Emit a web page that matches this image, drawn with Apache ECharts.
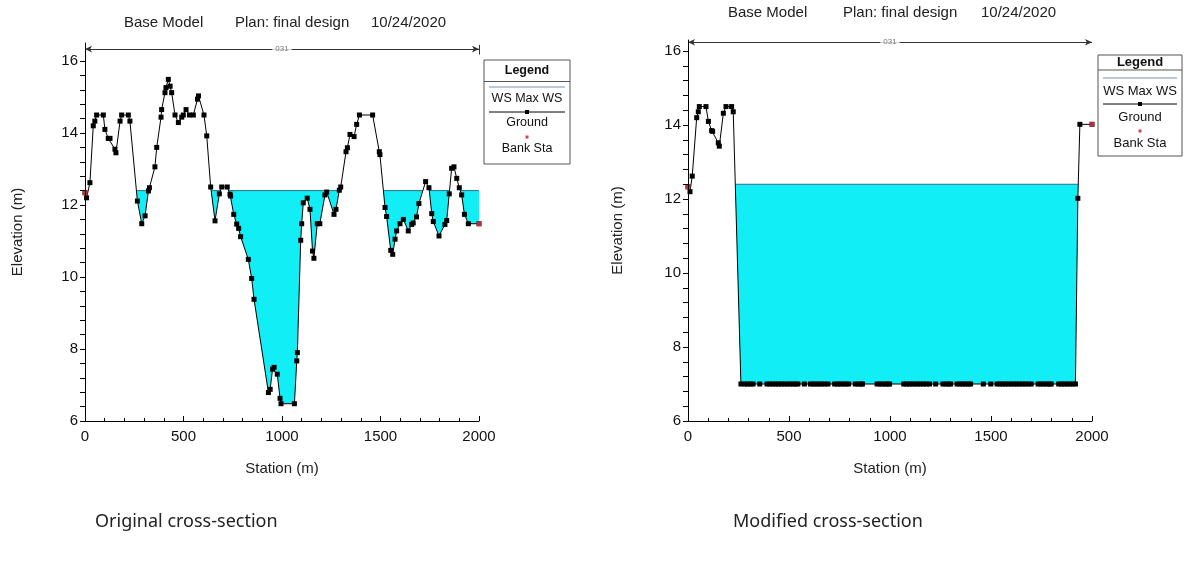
<!DOCTYPE html>
<html>
<head>
<meta charset="utf-8">
<script src="https://cdn.jsdelivr.net/npm/echarts@6/dist/echarts.min.js"></script>
<style>
html,body{margin:0;padding:0;background:#fff}
#chart{width:1184px;height:562px}
</style>
</head>
<body>
<div id="chart"></div>
<script>
// original cross-section ground points
const origStation = [0,8,25,42,50,59,93,101,118,127,152,157,178,186,220,228,266,288,305,322,327,355,364,386,389,406,411,423,432,440,457,474,491,499,513,530,550,571,576,604,618,638,660,682,694,722,736,739,755,770,780,790,829,846,858,931,940,952,960,976,990,995,1063,1075,1078,1095,1100,1108,1128,1142,1155,1162,1179,1192,1218,1227,1264,1274,1291,1298,1325,1332,1345,1366,1379,1393,1460,1494,1497,1523,1531,1552,1562,1574,1582,1599,1616,1641,1658,1666,1683,1695,1729,1746,1760,1768,1797,1827,1836,1849,1861,1873,1887,1900,1912,1926,1946,2000];
const origElev = [12.34,12.2,12.62,14.2,14.33,14.5,14.5,14.1,13.85,13.85,13.55,13.45,14.33,14.5,14.5,14.33,12.11,11.48,11.7,12.39,12.48,13.06,13.6,14.44,14.65,15.12,15.26,15.49,15.3,15.12,14.5,14.29,14.44,14.5,14.65,14.5,14.5,14.94,15.03,14.5,13.92,12.5,11.56,12.31,12.5,12.5,12.3,12.25,11.74,11.47,11.35,11.12,10.49,9.96,9.38,6.79,6.88,7.44,7.49,7.3,6.63,6.48,6.48,7.67,7.9,11.02,11.48,12.06,12.19,11.88,10.72,10.52,11.48,11.48,12.28,12.36,11.74,11.88,12.41,12.5,13.48,13.59,13.96,13.9,14.24,14.5,14.5,13.48,13.4,11.93,11.68,10.74,10.63,11.05,11.28,11.48,11.6,11.28,11.46,11.5,11.67,12.04,12.65,12.48,11.76,11.54,11.14,11.46,11.57,12.31,13.02,13.06,12.74,12.48,12.28,11.74,11.48,11.48];

// modified cross-section: left overbank, flat bed, right bank
const modLeftStation = [0,10,21,43,51,56,89,101,117,122,150,155,175,188,216,224];
const modLeftElev = [12.33,12.2,12.62,14.2,14.36,14.5,14.5,14.1,13.85,13.83,13.52,13.43,14.32,14.5,14.5,14.36];
const modBedStation = [262,280,295,308,322,355,391,405,420,434,448,462,477,491,505,519,532,544,576,606,620,634,648,662,677,693,726,740,754,768,782,795,828,842,856,864,936,950,964,978,990,998,1068,1082,1096,1110,1124,1138,1152,1166,1180,1196,1226,1262,1276,1290,1300,1332,1346,1360,1374,1388,1399,1462,1499,1530,1544,1558,1572,1586,1600,1614,1628,1642,1656,1670,1684,1699,1733,1747,1761,1775,1789,1798,1835,1849,1863,1877,1891,1905,1918];
const modBedElev = 7.0;
const modRightStation = [1930,1940,2000];
const modRightElev = [12.02,14.02,14.02];

// water surface and bank stations
const wsElev = 12.4;
const origWsStation = [240, 2000];
const modWsStation = [230, 2000];
const bankStation = [0, 2000];
const origBankElev = [12.34, 11.48];
const modBankElev = [12.33, 14.02];

// reach length marker across the top
const spanStation = [0, 2000];
const spanLabel = '031';
const origSpanElev = 16.33;
const modSpanElev = 16.24;

// axes
const yLabelValues = [6, 8, 10, 12, 14, 16];
const yTickValues = [6,6.4,6.8,7.2,7.6,8,8.4,8.8,9.2,9.6,10,10.4,10.8,11.2,11.6,12,12.4,12.8,13.2,13.6,14,14.4,14.8,15.2,15.6,16];

const FONT = "'Liberation Sans', Arial, sans-serif";
const CAPTION_FONT = "'Noto Sans', 'Open Sans', sans-serif";

const origGround = origStation.map((s, i) => [s, origElev[i]]);
const modGround = modLeftStation.map((s, i) => [s, modLeftElev[i]])
    .concat(modBedStation.map(s => [s, modBedElev]))
    .concat(modRightStation.map((s, i) => [s, modRightElev[i]]));

function xAxisFor(g) {
    return {
        gridIndex: g, type: 'value', min: 0, max: 2000, interval: 500,
        name: 'Station (m)', nameLocation: 'middle', nameGap: 40,
        nameTextStyle: {fontSize: 15, color: '#222', fontFamily: FONT},
        axisLine: {show: true, lineStyle: {color: '#000', width: 1}},
        axisTick: {show: true, inside: true, length: 5, lineStyle: {color: '#000'}},
        minorTick: {show: true, splitNumber: 5, length: 3, lineStyle: {color: '#000'}},
        splitLine: {show: false},
        axisLabel: {fontSize: 15, color: '#111', margin: 8, fontFamily: FONT, formatter: v => String(v)},
        z: 5
    };
}

function yAxisFor(g, max, gap) {
    return {
        gridIndex: g, type: 'value', min: 6, max: max,
        name: 'Elevation (m)', nameLocation: 'middle', nameGap: gap,
        nameTextStyle: {fontSize: 15, color: '#222', fontFamily: FONT},
        axisLine: {show: true, lineStyle: {color: '#000', width: 1}},
        axisTick: {show: true, inside: false, length: 5, customValues: yTickValues, lineStyle: {color: '#000'}},
        splitLine: {show: false},
        axisLabel: {fontSize: 15, color: '#111', margin: 7, fontFamily: FONT, customValues: yLabelValues},
        z: 5
    };
}

function seriesFor(g, ground, wsStation, bankElev, spanElev) {
    return [
        {
            name: 'WS Max WS', type: 'line', xAxisIndex: g, yAxisIndex: g,
            data: wsStation.map(s => [s, wsElev]),
            symbol: 'none', silent: true, z: 1,
            lineStyle: {color: '#2c6f84', width: 1},
            areaStyle: {color: '#12eef6', opacity: 1, origin: 'start'}
        },
        {
            name: 'Ground', type: 'line', xAxisIndex: g, yAxisIndex: g,
            data: ground, symbol: 'rect', symbolSize: 5, silent: true, z: 2,
            itemStyle: {color: '#000'},
            lineStyle: {color: '#000', width: 1},
            areaStyle: {color: '#fff', opacity: 1, origin: 'start'}
        },
        {
            name: 'Bank Sta', type: 'scatter', xAxisIndex: g, yAxisIndex: g,
            data: bankStation.map((s, i) => [s, bankElev[i]]),
            symbol: 'rect', symbolSize: 5, silent: true, z: 4,
            itemStyle: {color: '#d8404c'}
        },
        {
            name: 'span', type: 'scatter', xAxisIndex: g, yAxisIndex: g,
            data: [[(spanStation[0] + spanStation[1]) / 2, spanElev]],
            symbolSize: 0, silent: true, z: 6,
            label: {show: true, position: 'inside', formatter: spanLabel, fontSize: 8, color: '#555',
                    backgroundColor: '#fff', padding: [0, 3], fontFamily: FONT},
            markLine: {
                silent: true, symbol: ['arrow', 'arrow'], symbolSize: [5, 7],
                lineStyle: {color: '#333', width: 1, type: 'solid'},
                label: {show: false},
                data: [
                    [{coord: [spanStation[0], spanElev]}, {coord: [spanStation[1], spanElev]}],
                    [{coord: [spanStation[0], spanElev - 0.15], symbol: 'none'}, {coord: [spanStation[0], spanElev + 0.12], symbol: 'none'}],
                    [{coord: [spanStation[1], spanElev - 0.15], symbol: 'none'}, {coord: [spanStation[1], spanElev + 0.12], symbol: 'none'}]
                ]
            }
        }
    ];
}

function legendBox(x, y, w, h, rows, fs) {
    const cx = x + w / 2;
    const t = (text, yy, bold) => ({
        type: 'text', x: cx, y: yy,
        style: {text: text, align: 'center', verticalAlign: 'middle',
                font: (bold ? 'bold ' : '') + fs + 'px ' + FONT, fill: '#111'}
    });
    const ln = (yy, color) => ({
        type: 'line', shape: {x1: x + 5, y1: yy, x2: x + w - 5, y2: yy},
        style: {stroke: color, lineWidth: 1}
    });
    return [
        {type: 'rect', shape: {x: x, y: y, width: w, height: h}, style: {fill: '#fff', stroke: '#555', lineWidth: 1}},
        {type: 'line', shape: {x1: x, y1: rows[0], x2: x + w, y2: rows[0]}, style: {stroke: '#555', lineWidth: 1}},
        t('Legend', (y + rows[0]) / 2, true),
        ln(rows[1], '#7d8db5'),
        t('WS Max WS', rows[2]),
        ln(rows[3], '#000'),
        {type: 'rect', shape: {x: cx - 2, y: rows[3] - 2, width: 4, height: 4}, style: {fill: '#000'}},
        t('Ground', rows[4]),
        {type: 'rect', shape: {x: cx - 1.5, y: rows[5] - 1.5, width: 3, height: 3}, style: {fill: '#d8404c'}},
        t('Bank Sta', rows[6])
    ];
}

function titleRow(xs, y) {
    const parts = ['Base Model', 'Plan: final design', '10/24/2020'];
    return parts.map((p, i) => ({
        type: 'text', x: xs[i], y: y,
        style: {text: p, verticalAlign: 'middle', font: '15px ' + FONT, fill: '#222'}
    }));
}

const chart = echarts.init(document.getElementById('chart'));

chart.setOption({
    animation: false,
    backgroundColor: '#fff',
    grid: [
        {left: 85, top: 43, width: 394, height: 378},
        {left: 688, top: 40, width: 404, height: 381}
    ],
    xAxis: [xAxisFor(0), xAxisFor(1)],
    yAxis: [yAxisFor(0, 16.5, 60), yAxisFor(1, 16.3, 63)],
    series: seriesFor(0, origGround, origWsStation, origBankElev, origSpanElev)
        .concat(seriesFor(1, modGround, modWsStation, modBankElev, modSpanElev)),
    graphic: [].concat(
        titleRow([124, 235, 371], 23),
        titleRow([728, 843, 981], 13),
        legendBox(484, 60, 86, 104, [81.5, 87, 99, 112, 123, 137, 149], 12.5),
        legendBox(1098, 55, 84, 101, [70, 78, 91, 104, 117, 131, 143], 13),
        [
            {type: 'text', x: 95, y: 522, style: {text: 'Original cross-section', verticalAlign: 'middle', font: '18px ' + CAPTION_FONT, fill: '#222'}},
            {type: 'text', x: 733, y: 522, style: {text: 'Modified cross-section', verticalAlign: 'middle', font: '18px ' + CAPTION_FONT, fill: '#222'}}
        ]
    )
});
</script>
</body>
</html>
